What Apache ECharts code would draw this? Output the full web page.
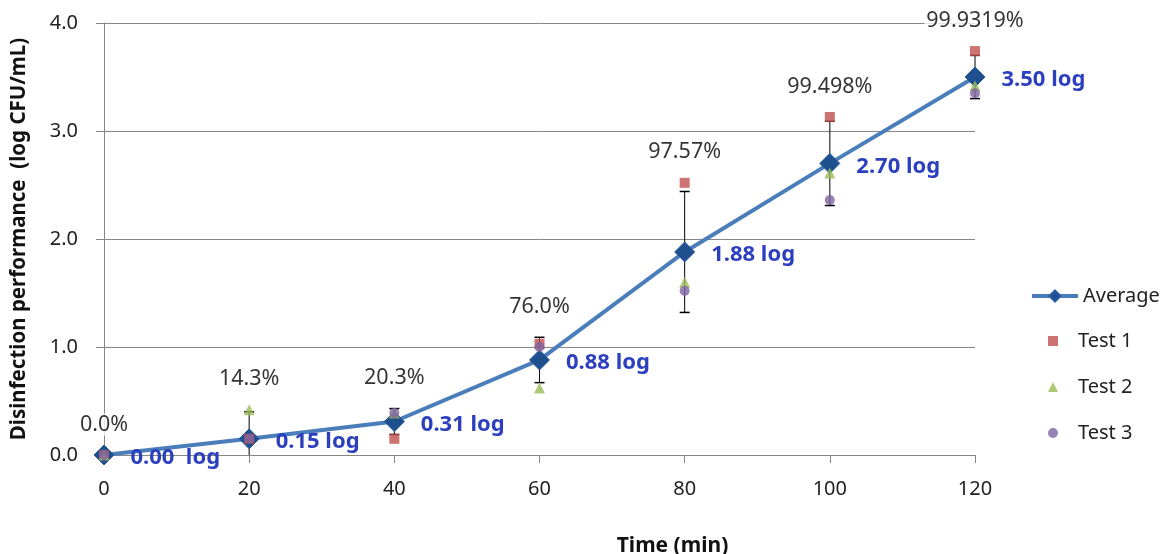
<!DOCTYPE html>
<html><head><meta charset="utf-8">
<script src="https://cdn.jsdelivr.net/npm/echarts@6/dist/echarts.min.js"></script>
<style>html,body{margin:0;padding:0;background:#fff}#c{width:1160px;height:554px}</style>
</head><body><div id="c"></div>
<script>
const times = [0, 20, 40, 60, 80, 100, 120];
const average = [0.00, 0.15, 0.31, 0.88, 1.88, 2.70, 3.50];
const averageLabels = ['0.00  log', '0.15 log', '0.31 log', '0.88 log', '1.88 log', '2.70 log', '3.50 log'];
const test1 = [0.00, 0.15, 0.15, 1.03, 2.52, 3.13, 3.74];
const test2 = [0.00, 0.42, 0.39, 0.62, 1.60, 2.61, 3.42];
const test3 = [0.00, 0.15, 0.39, 1.00, 1.52, 2.36, 3.35];
const errorBar = [0.00, 0.25, 0.12, 0.21, 0.56, 0.39, 0.20];
const percentLabels = ['0.0%', '14.3%', '20.3%', '76.0%', '97.57%', '99.498%', '99.9319%'];
const yTicks = [0, 1, 2, 3, 4];

const FONT = 'Noto Sans';
const pair = (arr) => times.map((t, i) => [t, arr[i]]);
const tops = times.map((t, i) => [t, Math.max(test1[i], test2[i], test3[i], average[i] + errorBar[i])]);

const chart = echarts.init(document.getElementById('c'), null, {renderer: 'canvas'});
chart.setOption({
  animation: false,
  backgroundColor: '#ffffff',
  textStyle: {fontFamily: FONT},
  grid: {left: 104, right: 185, top: 23, bottom: 99, containLabel: false, outerBoundsMode: 'none'},
  legend: [
    {
      data: ['Average'],
      orient: 'vertical', left: 1025, top: 281,
      itemWidth: 46, itemHeight: 14, itemGap: 26,
      lineStyle: {width: 4},
      textStyle: {fontSize: 20, color: '#222', fontFamily: FONT}
    },
    {
      data: ['Test 1', 'Test 2', 'Test 3'],
      orient: 'vertical', left: 1043, top: 326,
      itemWidth: 10, itemHeight: 10, itemGap: 26,
      textStyle: {fontSize: 20, color: '#222', fontFamily: FONT, padding: [0, 0, 0, 15]}
    }
  ],
  xAxis: {
    type: 'value', min: 0, max: 120, interval: 20,
    name: 'Time (min)', nameLocation: 'middle', nameGap: 81,
    nameTextStyle: {fontSize: 21, fontWeight: 'bold', color: '#111', fontFamily: FONT, padding: [0, 0, 0, 266]},
    axisLine: {show: true, lineStyle: {color: '#868686', width: 1}},
    axisTick: {show: true, length: 8, lineStyle: {color: '#868686'}},
    axisLabel: {fontSize: 20, color: '#222', margin: 24, fontFamily: FONT},
    splitLine: {show: false}
  },
  yAxis: {
    type: 'value', min: 0, max: 4, interval: 1,
    name: 'Disinfection performance  (log CFU/mL)', nameLocation: 'middle', nameGap: 74,
    nameTextStyle: {fontSize: 20.5, fontWeight: 'bold', color: '#111', fontFamily: FONT},
    axisLine: {show: true, lineStyle: {color: '#868686', width: 1}},
    axisTick: {show: true, length: 8, lineStyle: {color: '#868686'}},
    axisLabel: {fontSize: 20, color: '#222', margin: 26, fontFamily: FONT,
      formatter: (v) => yTicks.includes(v) ? v.toFixed(1) : ''},
    splitLine: {show: true, lineStyle: {color: '#868686', width: 1}}
  },
  series: [
    {
      name: 'Error', type: 'custom', z: 1,
      data: times.map((t, i) => [t, average[i], errorBar[i]]),
      renderItem: function (params, api) {
        const x = api.value(0), y = api.value(1), e = api.value(2);
        if (!e) return null;
        const lo = Math.max(y - e, 0);
        const pHi = api.coord([x, y + e]);
        const pLo = api.coord([x, lo]);
        const children = [
          {type: 'line', shape: {x1: pHi[0], y1: pHi[1], x2: pLo[0], y2: pLo[1]}, style: {stroke: '#000', lineWidth: 1}},
          {type: 'line', shape: {x1: pHi[0] - 5, y1: pHi[1], x2: pHi[0] + 5, y2: pHi[1]}, style: {stroke: '#000', lineWidth: 1.5}}
        ];
        if (y - e >= 0) children.push({type: 'line', shape: {x1: pLo[0] - 5, y1: pLo[1], x2: pLo[0] + 5, y2: pLo[1]}, style: {stroke: '#000', lineWidth: 1.5}});
        return {type: 'group', children: children};
      }
    },
    {
      name: 'Average', type: 'line', z: 3,
      data: pair(average),
      symbol: 'diamond', symbolSize: 20,
      lineStyle: {color: '#4a7ebb', width: 4},
      itemStyle: {color: '#1f4f8f', borderColor: '#2a5d9f', borderWidth: 1},
      label: {
        show: true, position: 'right', distance: 16, offset: [0, 3],
        fontSize: 22, fontWeight: 'bold', color: '#2b3fbf', fontFamily: FONT,
        formatter: (p) => averageLabels[p.dataIndex]
      }
    },
    {
      name: 'Test 1', type: 'scatter', z: 4,
      data: pair(test1), symbol: 'rect', symbolSize: 10,
      itemStyle: {color: '#c0504d'}
    },
    {
      name: 'Test 2', type: 'scatter', z: 4,
      data: pair(test2), symbol: 'triangle', symbolSize: 11,
      itemStyle: {color: '#9bbb59'}
    },
    {
      name: 'Test 3', type: 'scatter', z: 4,
      data: pair(test3), symbol: 'circle', symbolSize: 10,
      itemStyle: {color: '#8064a2'}
    },
    {
      name: 'Percent', type: 'scatter', z: 5, silent: true,
      data: tops, symbolSize: 1, itemStyle: {color: 'rgba(0,0,0,0)'},
      label: {
        show: true, position: 'top', distance: 19,
        fontSize: 21.5, color: '#000', fontFamily: FONT,
        backgroundColor: '#ffffff', padding: [0, 2],
        formatter: (p) => percentLabels[p.dataIndex]
      }
    }
  ]
});
</script></body></html>
